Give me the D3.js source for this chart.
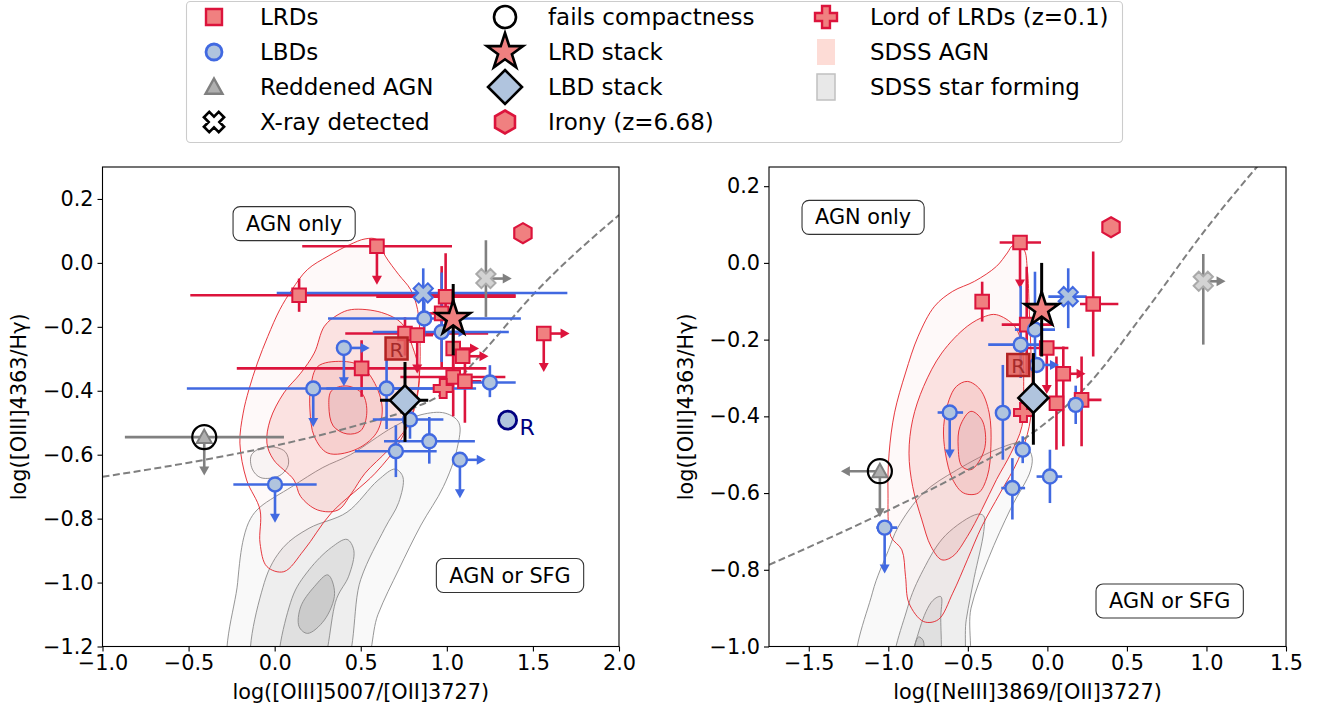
<!DOCTYPE html>
<html><head><meta charset="utf-8">
<script src="https://cdn.jsdelivr.net/npm/d3@7"></script>
<style>body{margin:0;background:#fff}svg text{font-family:"DejaVu Sans",sans-serif}</style>
</head><body><svg id="c" width="1331" height="714"></svg>
<script>
// ---------------- DATA ----------------
// points: [x, y, xlo, xhi, ylo, yhi, xLimit('r'|'l'|''), yLimit('d'|'')]
const lrdLeft = [
 [0.594, 0.052, 0.16, 1.03, null, null, '', 'd'],
 [0.142, -0.101, -0.49, 1.40, -0.153, -0.049, '', ''],
 [0.993, -0.106, 0.59, 1.40, -0.20, 0.03, '', ''],
 [0.970, -0.158, 0.88, 1.06, -0.33, -0.01, '', ''],
 [0.757, -0.221, 0.41, 1.24, -0.29, -0.17, '', ''],
 [0.828, -0.226, 0.76, 0.92, null, null, '', 'd'],
 [0.505, -0.330, -0.22, 1.23, -0.419, -0.242, '', ''],
 [1.037, -0.268, null, null, -0.36, -0.18, 'r', ''],
 [1.092, -0.292, null, null, null, null, 'r', ''],
 [1.037, -0.357, 0.73, 1.34, -0.48, -0.26, '', ''],
 [1.105, -0.370, 1.00, 1.20, -0.50, -0.31, '', ''],
 [1.563, -0.221, null, null, null, null, 'r', 'd']
];
const lbdLeft = [
 [0.869, -0.174, 0.31, 1.43, -0.23, -0.12, '', ''],
 [0.970, -0.216, 0.57, 1.36, -0.31, -0.03, 'r', ''],
 [0.402, -0.266, null, null, null, null, 'r', 'd'],
 [0.224, -0.393, -0.51, 0.95, null, null, '', 'd'],
 [0.650, -0.393, 0.30, 1.17, -0.52, -0.30, '', ''],
 [1.250, -0.374, 1.13, 1.40, -0.42, -0.32, '', ''],
 [0.786, -0.490, 0.57, 0.98, -0.55, -0.43, '', ''],
 [0.898, -0.558, 0.635, 1.163, -0.628, -0.482, '', ''],
 [0.704, -0.589, 0.466, 0.941, -0.670, -0.508, '', ''],
 [1.076, -0.616, null, null, null, null, 'r', 'd'],
 [0.002, -0.693, -0.24, 0.244, null, null, '', 'd']
];
const xrayLbdLeft = [[0.863, -0.094, 0.012, 1.70, -0.17, -0.017, '', '']];
const reddenedLeft = [[-0.409, -0.545, -0.87, 0.054, null, null, '', 'd']];
const xrayRedLeft = [[1.227, -0.049, null, null, -0.169, 0.071, 'r', '']];
const rLrdLeft = [[0.708, -0.268]];
const rLbdLeft = [[1.353, -0.492]];
const lordLeft = [[0.979, -0.393]];
const ironyLeft = [[1.442, 0.093]];
const lrdStackLeft = [[1.037, -0.174, null, null, -0.289, -0.066]];
const lbdStackLeft = [[0.757, -0.430, 0.612, 0.892, -0.560, -0.310]];

const lrdRight = [
 [-0.172, 0.053, -0.30, -0.04, null, null, '', 'd'],
 [-0.410, -0.101, null, null, -0.153, -0.049, '', ''],
 [0.288, -0.107, 0.205, 0.446, -0.244, 0.03, '', ''],
 [-0.130, -0.161, -0.287, 0.037, -0.29, -0.01, '', ''],
 [-0.004, -0.222, -0.13, 0.132, null, null, '', 'd'],
 [0.100, -0.289, null, null, -0.478, -0.218, 'r', ''],
 [0.057, -0.366, null, null, -0.487, -0.244, '', ''],
 [0.215, -0.357, 0.14, 0.34, -0.478, -0.244, '', '']
];
const lbdRight = [
 [-0.078, -0.174, -0.204, 0.048, -0.26, -0.023, '', ''],
 [-0.168, -0.213, -0.372, -0.03, -0.30, -0.06, '', ''],
 [-0.067, -0.266, null, null, null, null, 'r', ''],
 [0.178, -0.370, null, null, -0.42, -0.32, '', ''],
 [-0.280, -0.391, -0.32, -0.24, -0.513, -0.266, '', ''],
 [-0.614, -0.390, -0.69, -0.53, null, null, '', 'd'],
 [-0.155, -0.487, -0.18, -0.13, -0.522, -0.452, '', ''],
 [0.016, -0.557, -0.068, 0.093, -0.626, -0.487, '', ''],
 [-0.220, -0.587, -0.29, -0.14, -0.669, -0.509, '', ''],
 [-1.023, -0.690, -1.075, -0.944, null, null, '', 'd']
];
const xrayLbdRight = [[0.131, -0.088, 0.006, 0.247, -0.17, -0.014, '', '']];
const reddenedRight = [[-1.053, -0.543, null, null, null, null, 'l', 'd']];
const xrayRedRight = [[0.98, -0.048, null, null, -0.213, 0.023, 'r', '']];
const rLrdRight = [[-0.183, -0.266]];
const rLbdRight = [];
const lordRight = [[-0.150, -0.390]];
const ironyRight = [[0.400, 0.093]];
const lrdStackRight = [[-0.036, -0.122, null, null, -0.244, 0.0]];
const lbdStackRight = [[-0.088, -0.352, null, null, -0.474, -0.235]];

// demarcation curves
const divLeft = [[-1.0,-0.669],[-0.5,-0.625],[0.0,-0.572],[0.5,-0.505],[0.8,-0.455],[1.0,-0.40],[1.2,-0.285],[1.5,-0.10],[2.0,0.15]];
const divRight = [[-1.75,-0.787],[-1.05,-0.655],[-0.5,-0.54],[-0.05,-0.43],[0.25,-0.32],[0.6,-0.135],[1.0,0.09],[1.42,0.30]];

// SDSS contours (levels, outer to inner)
const agnLeft = [
 [[0.525,0.075],[0.594,0.073],[0.643,0.021],[0.721,-0.037],[0.79,-0.084],[0.83,-0.146],[0.845,-0.261],[0.835,-0.386],[0.80,-0.47],[0.721,-0.564],[0.584,-0.658],[0.328,-0.783],[0.171,-0.898],[0.053,-0.966],[-0.045,-0.95],[-0.085,-0.877],[-0.085,-0.773],[-0.163,-0.679],[-0.202,-0.564],[-0.183,-0.47],[-0.150,-0.397],[-0.100,-0.313],[-0.04,-0.23],[0.03,-0.146],[0.10,-0.084],[0.19,-0.021],[0.31,0.021],[0.436,0.057]],
 [[0.446,-0.146],[0.62,-0.155],[0.74,-0.19],[0.80,-0.261],[0.84,-0.345],[0.82,-0.439],[0.77,-0.512],[0.66,-0.585],[0.525,-0.658],[0.446,-0.721],[0.368,-0.773],[0.25,-0.773],[0.151,-0.731],[0.112,-0.679],[-0.006,-0.616],[-0.045,-0.564],[-0.026,-0.491],[0.053,-0.407],[0.151,-0.345],[0.23,-0.282],[0.289,-0.198],[0.368,-0.162]],
 [[0.25,-0.324],[0.387,-0.308],[0.505,-0.324],[0.59,-0.386],[0.625,-0.46],[0.59,-0.533],[0.466,-0.585],[0.309,-0.595],[0.23,-0.543],[0.205,-0.46],[0.21,-0.386]],
 [[0.33,-0.40],[0.42,-0.385],[0.51,-0.41],[0.535,-0.47],[0.50,-0.525],[0.42,-0.535],[0.34,-0.51],[0.315,-0.45]]
];
const sfLeft = [
 [[-0.24,-1.30],[-0.215,-1.0],[-0.18,-0.86],[-0.14,-0.80],[-0.085,-0.764],[0.10,-0.70],[0.28,-0.64],[0.44,-0.60],[0.69,-0.513],[0.85,-0.475],[0.99,-0.47],[1.07,-0.50],[1.06,-0.58],[0.98,-0.70],[0.85,-0.82],[0.72,-0.96],[0.60,-1.10],[0.48,-1.30]],
 [[-0.134,-0.60],[-0.05,-0.575],[0.06,-0.59],[0.08,-0.63],[0.03,-0.665],[-0.08,-0.672],[-0.13,-0.645]],
 [[-0.11,-1.30],[-0.06,-1.0],[0.05,-0.89],[0.2,-0.83],[0.42,-0.78],[0.6,-0.68],[0.70,-0.645],[0.745,-0.67],[0.72,-0.75],[0.64,-0.83],[0.5,-0.99],[0.37,-1.30]],
 [[0.04,-1.30],[0.1,-1.05],[0.2,-0.96],[0.33,-0.89],[0.42,-0.865],[0.46,-0.90],[0.43,-0.98],[0.36,-1.05],[0.24,-1.30]],
 [[0.309,-0.976],[0.348,-1.034],[0.289,-1.117],[0.191,-1.159],[0.142,-1.138],[0.151,-1.076],[0.23,-1.013]]
];
const sfLeftLevel = [0, 0, 1, 2, 3];
const agnRight = [
 [[-0.217,0.045],[-0.149,0.035],[-0.126,-0.017],[-0.114,-0.122],[-0.103,-0.235],[-0.096,-0.339],[-0.114,-0.426],[-0.183,-0.513],[-0.297,-0.6],[-0.412,-0.687],[-0.503,-0.774],[-0.595,-0.861],[-0.686,-0.93],[-0.778,-0.935],[-0.87,-0.887],[-0.892,-0.817],[-0.915,-0.748],[-0.984,-0.713],[-1.002,-0.6],[-0.995,-0.496],[-0.961,-0.391],[-0.892,-0.287],[-0.812,-0.191],[-0.709,-0.113],[-0.595,-0.074],[-0.458,-0.048],[-0.32,-0.009],[-0.252,0.026]],
 [[-0.32,-0.135],[-0.206,-0.165],[-0.16,-0.217],[-0.149,-0.322],[-0.16,-0.426],[-0.229,-0.496],[-0.32,-0.565],[-0.412,-0.643],[-0.503,-0.713],[-0.595,-0.765],[-0.664,-0.774],[-0.732,-0.739],[-0.789,-0.67],[-0.847,-0.583],[-0.87,-0.496],[-0.847,-0.409],[-0.778,-0.322],[-0.664,-0.235],[-0.503,-0.165],[-0.389,-0.139]],
 [[-0.503,-0.309],[-0.423,-0.33],[-0.366,-0.391],[-0.355,-0.478],[-0.378,-0.557],[-0.435,-0.6],[-0.526,-0.6],[-0.595,-0.565],[-0.641,-0.496],[-0.652,-0.426],[-0.618,-0.357],[-0.572,-0.322]],
 [[-0.481,-0.387],[-0.412,-0.409],[-0.389,-0.47],[-0.423,-0.513],[-0.481,-0.539],[-0.538,-0.53],[-0.561,-0.478],[-0.549,-0.426]]
];
const sfRight = [
 [[-1.18,-1.08],[-1.1,-0.86],[-1.0,-0.75],[-0.94,-0.69],[-0.78,-0.60],[-0.57,-0.54],[-0.30,-0.483],[-0.16,-0.47],[-0.10,-0.50],[-0.105,-0.54],[-0.23,-0.64],[-0.37,-0.77],[-0.48,-0.90],[-0.53,-1.08]],
 [[-0.95,-1.08],[-0.88,-0.90],[-0.78,-0.80],[-0.64,-0.71],[-0.44,-0.655],[-0.40,-0.66],[-0.40,-0.70],[-0.46,-0.82],[-0.51,-0.93],[-0.56,-1.08]],
 [[-0.85,-1.08],[-0.80,-0.95],[-0.72,-0.88],[-0.67,-0.87],[-0.67,-0.92],[-0.70,-1.08]],
 [[-0.84,-1.02],[-0.81,-0.975],[-0.78,-0.985],[-0.78,-1.02],[-0.80,-1.05]]
];
const sfRightLevel = [0, 1, 2, 3];

const xTicksLeft = [-1.0,-0.5,0.0,0.5,1.0,1.5,2.0];
const yTicksLeft = [-1.2,-1.0,-0.8,-0.6,-0.4,-0.2,0.0,0.2];
const xTicksRight = [-1.5,-1.0,-0.5,0.0,0.5,1.0,1.5];
const yTicksRight = [-1.0,-0.8,-0.6,-0.4,-0.2,0.0,0.2];

const legendLabels = [
 ['LRDs','LBDs','Reddened AGN','X-ray detected'],
 ['fails compactness','LRD stack','LBD stack','Irony (z=6.68)'],
 ['Lord of LRDs (z=0.1)','SDSS AGN','SDSS star forming']
];

// ---------------- STYLE ----------------
const C = {crimson:'#dc143c', coral:'#f08080', royal:'#4169e1', lsb:'#b0c4de', navy:'#000080', gray:'#808080'};
const FS = 20.8, LFS = 23;
const AGN_FILL = ['rgba(236,95,85,0.035)','rgba(236,95,85,0.14)','rgba(225,95,90,0.13)','rgba(170,110,125,0.12)'];
const SF_FILL = ['rgba(0,0,0,0.025)','rgba(0,0,0,0.045)','rgba(0,0,0,0.06)','rgba(0,0,0,0.09)'];

const svg = d3.select('#c');
const defs = svg.append('defs');

function poly(pts){return 'M'+pts.map(p=>p[0].toFixed(2)+','+p[1].toFixed(2)).join('L')+'Z';}
function shape(type, s){
  const pts=[];
  if(type==='square') return poly([[-s,-s],[s,-s],[s,s],[-s,s]]);
  if(type==='diamond') return poly([[0,-s],[s,0],[0,s],[-s,0]]);
  if(type==='triangle') return poly([[0,-s],[s,s*0.8],[-s,s*0.8]]);
  if(type==='hexagon'){for(let k=0;k<6;k++){const a=(-90+60*k)*Math.PI/180;pts.push([s*Math.cos(a),s*Math.sin(a)]);}return poly(pts);}
  if(type==='star'){for(let k=0;k<10;k++){const r=k%2?s*0.382:s;const a=(-90+36*k)*Math.PI/180;pts.push([r*Math.cos(a),r*Math.sin(a)]);}return poly(pts);}
  if(type==='plus'||type==='x'){
    const a=s*0.36;
    let p=[[-a,-s],[a,-s],[a,-a],[s,-a],[s,a],[a,a],[a,s],[-a,s],[-a,a],[-s,a],[-s,-a],[-a,-a]];
    if(type==='x'){const c=Math.SQRT1_2;p=p.map(q=>[(q[0]-q[1])*c,(q[0]+q[1])*c]);}
    return poly(p);
  }
}
function marker(g,type,cx,cy,s,fill,stroke,sw){
  if(type==='circle') return g.append('circle').attr('cx',cx).attr('cy',cy).attr('r',s).attr('fill',fill).attr('stroke',stroke).attr('stroke-width',sw);
  return g.append('path').attr('d',shape(type,s)).attr('transform',`translate(${cx},${cy})`).attr('fill',fill).attr('stroke',stroke).attr('stroke-width',sw).attr('stroke-linejoin','miter');
}
function arrow(g,x1,y1,x2,y2,color,w){
  const dx=x2-x1,dy=y2-y1,L=Math.hypot(dx,dy),ux=dx/L,uy=dy/L,h=9,hw=5;
  g.append('line').attr('x1',x1).attr('y1',y1).attr('x2',x2-ux*h*0.5).attr('y2',y2-uy*h*0.5).attr('stroke',color).attr('stroke-width',w);
  g.append('path').attr('d',poly([[x2,y2],[x2-ux*h-uy*hw,y2-uy*h+ux*hw],[x2-ux*h+uy*hw,y2-uy*h-ux*hw]])).attr('fill',color);
}
function errs(g,pts,sx,sy,color,w,ax,ay,axl){
  pts.forEach(p=>{
    const [x,y,xlo,xhi,ylo,yhi,xl,yl]=p;
    if(xlo!=null) g.append('line').attr('x1',sx(xlo)).attr('x2',sx(xhi)).attr('y1',sy(y)).attr('y2',sy(y)).attr('stroke',color).attr('stroke-width',w);
    if(ylo!=null) g.append('line').attr('x1',sx(x)).attr('x2',sx(x)).attr('y1',sy(ylo)).attr('y2',sy(yhi)).attr('stroke',color).attr('stroke-width',w);
    if(xl==='r') arrow(g,sx(x),sy(y),sx(x+ax),sy(y),color,w);
    if(xl==='l') arrow(g,sx(x),sy(y),sx(x-axl),sy(y),color,w);
    if(yl==='d') arrow(g,sx(x),sy(y),sx(x),sy(y-ay),color,w);
  });
}

function panel(cfg){
  const sx=d3.scaleLinear().domain(cfg.xdom).range([cfg.left,cfg.right]);
  const sy=d3.scaleLinear().domain(cfg.ydom).range([cfg.bottom,cfg.top]);
  defs.append('clipPath').attr('id','clip'+cfg.id).append('rect').attr('x',cfg.left).attr('y',cfg.top).attr('width',cfg.right-cfg.left).attr('height',cfg.bottom-cfg.top);
  const g=svg.append('g').attr('clip-path',`url(#clip${cfg.id})`);
  const cl=d3.line().x(p=>sx(p[0])).y(p=>sy(p[1])).curve(d3.curveCatmullRomClosed.alpha(0.5));
  cfg.sf.forEach((lev,i)=>g.append('path').attr('d',cl(lev)).attr('fill',SF_FILL[cfg.sfLevel[i]]).attr('stroke','#8a8a8a').attr('stroke-width',0.9));
  cfg.agn.forEach((lev,i)=>g.append('path').attr('d',cl(lev)).attr('fill',AGN_FILL[i]).attr('stroke','#e3232a').attr('stroke-width',0.9));
  const dl=d3.line().x(p=>sx(p[0])).y(p=>sy(p[1])).curve(d3.curveMonotoneX);
  g.append('path').attr('d',dl(cfg.div)).attr('fill','none').attr('stroke','#7f7f7f').attr('stroke-width',2).attr('stroke-dasharray','7,3.5');
  const W=2.6;
  errs(g,cfg.lrd,sx,sy,C.crimson,W,cfg.ax,0.12,cfg.axl);
  errs(g,cfg.lbd.concat(cfg.xlbd),sx,sy,C.royal,W,cfg.ax,0.12,cfg.axl);
  errs(g,cfg.red.concat(cfg.xred),sx,sy,C.gray,W,cfg.ax,0.12,cfg.axl);
  cfg.lrd.forEach(p=>marker(g,'square',sx(p[0]),sy(p[1]),6.8,C.coral,C.crimson,2));
  cfg.lbd.forEach(p=>marker(g,'circle',sx(p[0]),sy(p[1]),7,C.lsb,C.royal,2.4));
  cfg.xlbd.forEach(p=>marker(g,'x',sx(p[0]),sy(p[1]),10,C.lsb,C.royal,2));
  cfg.xred.forEach(p=>marker(g,'x',sx(p[0]),sy(p[1]),10,'#d3d3d3','#a9a9a9',2));
  cfg.red.forEach(p=>{marker(g,'triangle',sx(p[0]),sy(p[1]),7.5,'#b0b0b0','#808080',2);
    marker(g,'circle',sx(p[0]),sy(p[1]),12,'none','#000',2.2);});
  cfg.rlrd.forEach(p=>{marker(g,'square',sx(p[0]),sy(p[1]),11,'rgba(226,95,90,0.85)','#b22222',2.5);
    g.append('text').attr('x',sx(p[0])).attr('y',sy(p[1])+1).attr('text-anchor','middle').attr('dominant-baseline','central').attr('font-size',20).attr('fill','#a52a2a').text('R');});
  cfg.rlbd.forEach(p=>{marker(g,'circle',sx(p[0]),sy(p[1]),9,C.lsb,C.navy,2.8);
    g.append('text').attr('x',sx(p[0])+12).attr('y',sy(p[1])+7).attr('dominant-baseline','central').attr('font-size',22).attr('fill',C.navy).text('R');});
  cfg.lord.forEach(p=>marker(g,'plus',sx(p[0]),sy(p[1]),9.5,C.coral,C.crimson,2));
  cfg.irony.forEach(p=>marker(g,'hexagon',sx(p[0]),sy(p[1]),10,C.coral,C.crimson,2.2));
  errs(g,cfg.lrdS.concat(cfg.lbdS),sx,sy,'#000',3,0,0,0);
  cfg.lrdS.forEach(p=>marker(g,'star',sx(p[0]),sy(p[1]),18,C.coral,'#000',2.6));
  cfg.lbdS.forEach(p=>marker(g,'diamond',sx(p[0]),sy(p[1]),15,C.lsb,'#000',2.6));
  // text boxes
  cfg.boxes.forEach(b=>{
    const bg=svg.append('g');
    const t=bg.append('text').attr('x',cfg.left+b[1]*(cfg.right-cfg.left)).attr('y',cfg.bottom-b[2]*(cfg.bottom-cfg.top)).attr('text-anchor','middle').attr('dominant-baseline','central').attr('font-size',FS).text(b[0]);
    const bb=t.node().getBBox();
    bg.insert('rect','text').attr('x',bb.x-13).attr('y',bb.y-5).attr('width',bb.width+26).attr('height',bb.height+10).attr('rx',7).attr('fill','#fff').attr('stroke','#333').attr('stroke-width',1.1);
  });
  // frame & axes
  const fmt=d3.format('.1f');
  const ax=svg.append('g');
  ax.append('rect').attr('x',cfg.left).attr('y',cfg.top).attr('width',cfg.right-cfg.left).attr('height',cfg.bottom-cfg.top).attr('fill','none').attr('stroke','#000').attr('stroke-width',1.1);
  const xa=svg.append('g').attr('transform',`translate(0,${cfg.bottom})`).call(d3.axisBottom(sx).tickValues(cfg.xt).tickFormat(fmt).tickSize(5).tickPadding(4).tickSizeOuter(0));
  const ya=svg.append('g').attr('transform',`translate(${cfg.left},0)`).call(d3.axisLeft(sy).tickValues(cfg.yt).tickFormat(fmt).tickSize(5).tickPadding(4).tickSizeOuter(0));
  [xa,ya].forEach(a=>{a.select('.domain').remove();a.selectAll('text').attr('font-size',FS).attr('font-family','"DejaVu Sans",sans-serif').attr('fill','#000');a.selectAll('line').attr('stroke','#000').attr('stroke-width',1.1);});
  svg.append('text').attr('x',(cfg.left+cfg.right)/2).attr('y',692).attr('text-anchor','middle').attr('dominant-baseline','central').attr('font-size',FS).text(cfg.xlabel);
  svg.append('text').attr('transform',`translate(${cfg.ylx},${(cfg.top+cfg.bottom)/2}) rotate(-90)`).attr('text-anchor','middle').attr('dominant-baseline','central').attr('font-size',FS).text('log([OIII]4363/Hγ)');
}

panel({id:'L',left:102.5,right:619,top:167,bottom:646.5,xdom:[-1,2],ydom:[-1.2,0.3],xt:xTicksLeft,yt:yTicksLeft,
  sf:sfLeft,sfLevel:sfLeftLevel,agn:agnLeft,div:divLeft,lrd:lrdLeft,lbd:lbdLeft,xlbd:xrayLbdLeft,red:reddenedLeft,xred:xrayRedLeft,
  rlrd:rLrdLeft,rlbd:rLbdLeft,lord:lordLeft,irony:ironyLeft,lrdS:lrdStackLeft,lbdS:lbdStackLeft,ax:0.15,axl:0.25,
  boxes:[['AGN only',0.371,0.882],['AGN or SFG',0.789,0.148]],xlabel:'log([OIII]5007/[OII]3727)',ylx:19});
panel({id:'R',left:769,right:1286,top:167,bottom:646.5,xdom:[-1.75,1.5],ydom:[-1.0,0.25],xt:xTicksRight,yt:yTicksRight,
  sf:sfRight,sfLevel:sfRightLevel,agn:agnRight,div:divRight,lrd:lrdRight,lbd:lbdRight,xlbd:xrayLbdRight,red:reddenedRight,xred:xrayRedRight,
  rlrd:rLrdRight,rlbd:rLbdRight,lord:lordRight,irony:ironyRight,lrdS:lrdStackRight,lbdS:lbdStackRight,ax:0.14,axl:0.245,
  boxes:[['AGN only',0.182,0.895],['AGN or SFG',0.775,0.095]],xlabel:'log([NeIII]3869/[OII]3727)',ylx:686});

// legend
const lg=svg.append('g');
lg.append('rect').attr('x',186.5).attr('y',1.5).attr('width',936).attr('height',141).attr('rx',4).attr('fill','#fff').attr('stroke','#cccccc').attr('stroke-width',1.1);
const colX=[214,505,826], textX=[260,548,870], rowY=[17,52,87,122];
const legMarkers=[
 [['square',8,C.coral,C.crimson,2.4],['circle',8,C.lsb,C.royal,2.8],['triangle',8.5,'#b0b0b0','#808080',2.4],['x',10.5,'#fff','#000',2.6]],
 [['circle',11,'none','#000',2.6],['star',19,C.coral,'#000',2.6],['diamond',17,C.lsb,'#000',2.6],['hexagon',11.5,C.coral,C.crimson,2.6]],
 [['plus',11,C.coral,C.crimson,2.4],['rect','#fddcd6','none'],['rect','#e8e8e8','#c0c0c0']]
];
legendLabels.forEach((col,ci)=>col.forEach((lab,ri)=>{
  const m=legMarkers[ci][ri];
  if(m[0]==='rect') lg.append('rect').attr('x',colX[ci]-9).attr('y',rowY[ri]-13).attr('width',18).attr('height',26).attr('fill',m[1]).attr('stroke',m[2]).attr('stroke-width',1.5);
  else marker(lg,m[0],colX[ci],rowY[ri],m[1],m[2],m[3],m[4]);
  lg.append('text').attr('x',textX[ci]).attr('y',rowY[ri]).attr('dominant-baseline','central').attr('font-size',LFS).text(lab);
}));
</script></body></html>
